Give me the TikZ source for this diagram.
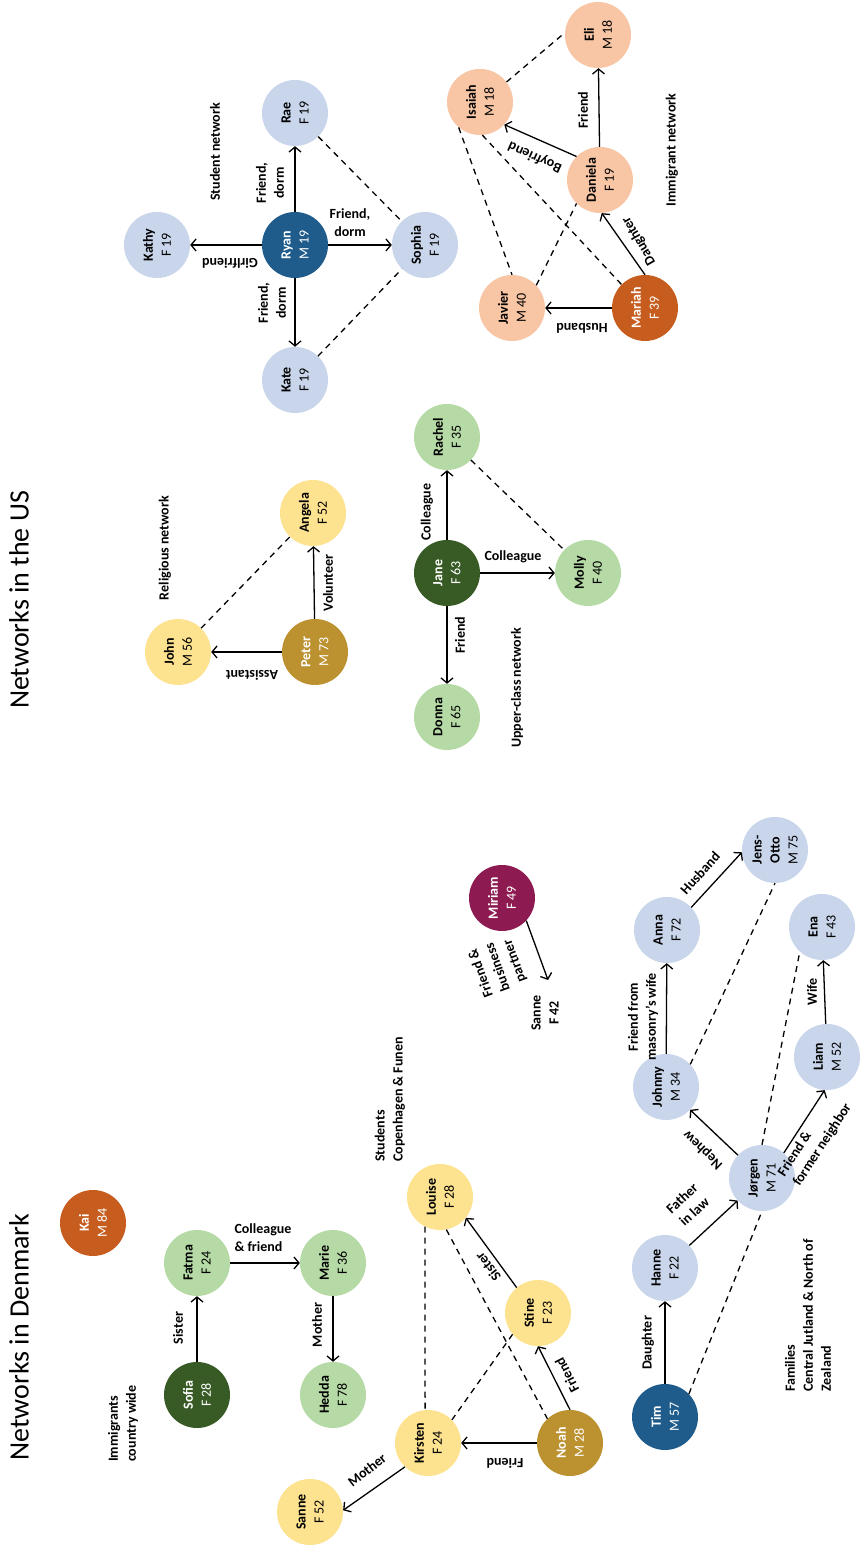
\documentclass[tikz,border=0pt]{standalone}
\usepackage{fontspec}
\setmainfont{Carlito}
\usetikzlibrary{arrows.meta}
\definecolor{paleblue}{HTML}{C8D5EA}
\definecolor{navy}{HTML}{1F5C8C}
\definecolor{leaf}{HTML}{B5DAA5}
\definecolor{forest}{HTML}{385B26}
\definecolor{sand}{HTML}{FDE28F}
\definecolor{gold}{HTML}{BC9130}
\definecolor{peach}{HTML}{F8C6A5}
\definecolor{rust}{HTML}{C65D1E}
\definecolor{plum}{HTML}{8D1A50}
\newcommand{\who}[2]{\textbf{#1}\\#2}
\begin{document}
\begin{tikzpicture}[x=1pt, y=1pt, rotate=90, transform shape,
	person/.style={circle, minimum size=66pt, inner sep=0pt, align=center, font=\fontsize{14}{18}\selectfont},
	dark/.style={person, text=white},
	lbl/.style={font=\bfseries\fontsize{14}{18}\selectfont, align=center, inner sep=1pt},
	group/.style={lbl, align=left, anchor=west},
	rel/.style={line width=1.3pt, -{Straight Barb[length=5pt,width=12pt]}},
	tie/.style={line width=1.3pt, dash pattern=on 6pt off 5pt},
	heading/.style={font=\fontsize{28}{32}\selectfont}]
	\useasboundingbox (0,-862) rectangle (1565,0);

	\node[heading] (dktitle) at (228,-19) {Networks in Denmark};
	\node[heading] (ustitle) at (965,-19) {Networks in the US};

	\node[group] (immlbl) at (102,-123) {Immigrants\\country wide};
	\node[group] (studlbl) at (402,-390) {Students\\Copenhagen \& Funen};
	\node[group] (famlbl) at (172,-808) {Families\\Central Jutland \& North of\\Zealand};
	\node[lbl] (rellbl) at (1017,-165) {Religious network};
	\node[lbl] (upperlbl) at (877,-517) {Upper-class network};
	\node[lbl] (studentlbl) at (1413,-215) {Student network};
	\node[lbl] (immuslbl) at (1415,-672) {Immigrant network};

	\node[dark, fill=rust] (kai) at (342,-93) {\who{Kai}{M 84}};
	\node[person, fill=leaf] (fatma) at (302,-197) {\who{Fatma}{F 24}};
	\node[dark, fill=forest] (sofia) at (170,-197) {\who{Sofia}{F 28}};
	\node[person, fill=leaf] (marie) at (302,-333) {\who{Marie}{F 36}};
	\node[person, fill=leaf] (hedda) at (170,-333) {\who{Hedda}{F 78}};

	\node[person, fill=sand] (louise) at (368,-440) {\who{Louise}{F 28}};
	\node[person, fill=sand] (kirsten) at (122,-428) {\who{Kirsten}{F 24}};
	\node[person, fill=sand] (sannea) at (53,-310) {\who{Sanne}{F 52}};
	\node[person, fill=sand] (stine) at (252,-538) {\who{Stine}{F 23}};
	\node[dark, fill=gold] (noah) at (122,-570) {\who{Noah}{M 28}};

	\node[dark, fill=navy] (tim) at (148,-665) {\who{Tim}{M 57}};
	\node[person, fill=paleblue] (hanne) at (297,-665) {\who{Hanne}{F 22}};
	\node[person, fill=paleblue] (jorgen) at (387,-762) {\who{Jørgen}{M 71}};
	\node[person, fill=paleblue] (johnny) at (478,-666) {\who{Johnny}{M 34}};
	\node[person, fill=paleblue] (anna) at (635,-667) {\who{Anna}{F 72}};
	\node[person, fill=paleblue] (jensotto) at (715,-775) {\textbf{Jens-}\\\textbf{Otto}\\M 75};
	\node[person, fill=paleblue] (liam) at (508,-827) {\who{Liam}{M 52}};
	\node[person, fill=paleblue] (ena) at (638,-822) {\who{Ena}{F 43}};

	\node[dark, fill=plum] (miriam) at (667,-502) {\who{Miriam}{F 49}};
	\node[lbl] (sanneb) at (552,-545) {Sanne\\F 42};
	\coordinate (sannetip) at (585,-548);

	\node[person, fill=sand] (john) at (913,-178) {\who{John}{M 56}};
	\node[dark, fill=gold] (peter) at (913,-315) {\who{Peter}{M 73}};
	\node[person, fill=sand] (angela) at (1052,-313) {\who{Angela}{F 52}};

	\node[person, fill=leaf] (rachel) at (1128,-447) {\who{Rachel}{F 35}};
	\node[dark, fill=forest] (jane) at (992,-447) {\who{Jane}{F 63}};
	\node[person, fill=leaf] (molly) at (992,-588) {\who{Molly}{F 40}};
	\node[person, fill=leaf] (donna) at (848,-447) {\who{Donna}{F 65}};

	\node[person, fill=paleblue] (kathy) at (1320,-157) {\who{Kathy}{F 19}};
	\node[dark, fill=navy] (ryan) at (1320,-295) {\who{Ryan}{M 19}};
	\node[person, fill=paleblue] (rae) at (1452,-295) {\who{Rae}{F 19}};
	\node[person, fill=paleblue] (kate) at (1185,-295) {\who{Kate}{F 19}};
	\node[person, fill=paleblue] (sophia) at (1320,-425) {\who{Sophia}{F 19}};

	\node[person, fill=peach] (eli) at (1530,-598) {\who{Eli}{M 18}};
	\node[person, fill=peach] (isaiah) at (1463,-480) {\who{Isaiah}{M 18}};
	\node[person, fill=peach] (daniela) at (1385,-600) {\who{Daniela}{F 19}};
	\node[person, fill=peach] (javier) at (1257,-512) {\who{Javier}{M 40}};
	\node[dark, fill=rust] (mariah) at (1257,-645) {\who{Mariah}{F 39}};

	\draw[rel] (sofia) -- (fatma);
	\draw[rel] (fatma) -- (marie);
	\draw[rel] (marie) -- (hedda);
	\draw[rel] (kirsten.136) -- (sannea.-87);
	\draw[rel] (noah) -- (kirsten);
	\draw[rel] (noah.east) -- (stine.west);
	\draw[rel] (stine.40) -- (louise.231);
	\draw[tie] (louise.153) -- (kirsten.5);
	\draw[tie] (louise.191) -- (noah.43);
	\draw[tie] (stine.130) -- (kirsten.-46);

	\draw[rel] (tim) -- (hanne);
	\draw[rel] (hanne) -- (jorgen);
	\draw[rel] (jorgen) -- (johnny);
	\draw[rel] (jorgen.-41) -- (liam.176);
	\draw[rel] (johnny) -- (anna);
	\draw[rel] (anna.-47) -- (jensotto.94);
	\draw[rel] (liam) -- (ena);
	\draw[tie] (tim.-46) -- (jorgen.west);
	\draw[tie] (jorgen.east) -- (ena.138);
	\draw[tie] (johnny.-47) -- (jensotto.west);
	\draw[rel] (miriam.227) -- (sannetip);

	\draw[rel] (peter) -- (john);
	\draw[rel] (peter) -- (angela);
	\draw[tie] (john) -- (angela);
	\draw[rel] (jane) -- (rachel);
	\draw[rel] (jane) -- (molly);
	\draw[rel] (jane) -- (donna);
	\draw[tie] (rachel) -- (molly);

	\draw[rel] (ryan) -- (kathy);
	\draw[rel] (ryan) -- (rae);
	\draw[rel] (ryan) -- (kate);
	\draw[rel] (ryan) -- (sophia);
	\draw[tie] (rae) -- (sophia);
	\draw[tie] (kate) -- (sophia);

	\draw[rel] (daniela) -- (eli);
	\draw[rel] (daniela.45) -- (isaiah.227);
	\draw[rel] (mariah.east) -- (daniela.183);
	\draw[rel] (mariah) -- (javier);
	\draw[tie] (isaiah.-53) -- (eli.86);
	\draw[tie] (isaiah.140) -- (javier.east);
	\draw[tie] (isaiah.184) -- (mariah.45);
	\draw[tie] (javier.-47) -- (daniela.135);

	\node[lbl] (sisterlbl) at (237,-178) {Sister};
	\node[lbl, rotate=-90, align=left] (colllbl) at (327,-263) {Colleague\\\& friend};
	\node[lbl] (motherlbl) at (240,-317) {Mother};
	\node[lbl, rotate=-52] (mothertwolbl) at (95,-367) {Mother};
	\node[lbl, rotate=90] (friendlbl) at (102,-505) {Friend};
	\node[lbl, rotate=27] (friendtwolbl) at (190,-567) {Friend};
	\node[lbl, rotate=38] (sistertwolbl) at (298,-488) {Sister};
	\node[lbl] (daughterlbl) at (222,-648) {Daughter};
	\node[lbl, rotate=-47] (inlawlbl) at (360,-688) {Father\\in law};
	\node[lbl, rotate=46] (nephewlbl) at (415,-703) {Nephew};
	\node[lbl, rotate=-33, align=left] (neighborlbl) at (425,-815) {Friend \&\\former neighbor};
	\node[lbl] (masonlbl) at (548,-643) {Friend from\\masonry's wife};
	\node[lbl, rotate=-42] (husbandlbl) at (692,-700) {Husband};
	\node[lbl] (wifelbl) at (573,-812) {Wife};
	\node[lbl, rotate=20] (partnerlbl) at (598,-498) {Friend \&\\business\\partner};

	\node[lbl, rotate=90] (assistlbl) at (890,-252) {Assistant};
	\node[lbl] (volunteerlbl) at (982,-328) {Volunteer};
	\node[lbl] (colleaguelbl) at (1053,-427) {Colleague};
	\node[lbl, rotate=-90] (colleaguetwolbl) at (1008,-513) {Colleague};
	\node[lbl] (friendjanelbl) at (930,-460) {Friend};

	\node[lbl, rotate=90] (girllbl) at (1302,-230) {Girlfriend};
	\node[lbl] (dormraelbl) at (1382,-270) {Friend,\\dorm};
	\node[lbl] (dormkatelbl) at (1262,-272) {Friend,\\dorm};
	\node[lbl, rotate=-90] (dormsophialbl) at (1342,-350) {Friend,\\dorm};

	\node[lbl] (frienddanlbl) at (1455,-583) {Friend};
	\node[lbl, rotate=66] (boylbl) at (1408,-535) {Boyfriend};
	\node[lbl, rotate=30] (daughtertwolbl) at (1324,-639) {Daughter};
	\node[lbl, rotate=90] (husbandtwolbl) at (1237,-582) {Husband};
\end{tikzpicture}
\end{document}
